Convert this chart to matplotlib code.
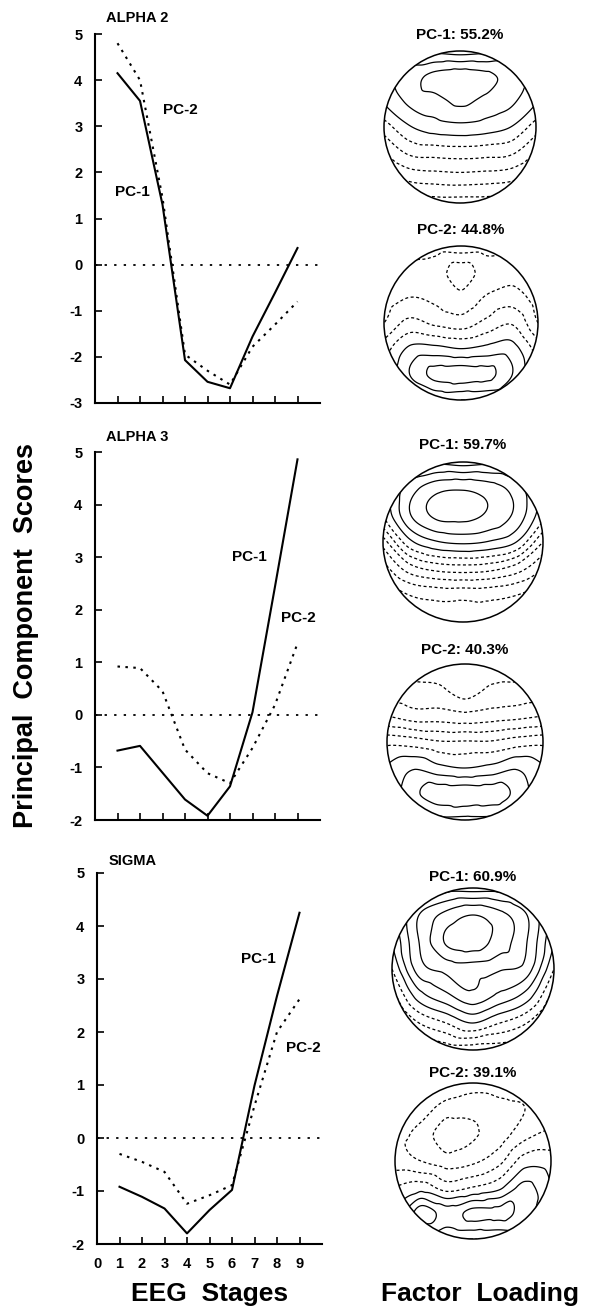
import numpy as np
import matplotlib
matplotlib.use('agg')
import matplotlib.pyplot as plt
import matplotlib.tri as mtri
from matplotlib.patches import Circle

plt.rcParams['font.family'] = ['Liberation Sans', 'DejaVu Sans']
plt.rcParams['font.weight'] = 'bold'
plt.rcParams['axes.unicode_minus'] = False

# ---- principal component scores per EEG stage ----
stages = [1, 2, 3, 4, 5, 6, 7, 8, 9]
alpha2_pc1 = [4.15, 3.55, 1.3, -2.07, -2.54, -2.68, -1.56, -0.61, 0.36]
alpha2_pc2 = [4.8, 4.0, 1.45, -1.95, -2.3, -2.6, -1.78, -1.3, -0.8]
alpha3_pc1 = [-0.68, -0.59, -1.1, -1.61, -1.92, -1.36, 0.05, 2.44, 4.86]
alpha3_pc2 = [0.92, 0.89, 0.45, -0.66, -1.11, -1.3, -0.63, 0.19, 1.36]
sigma_pc1 = [-0.92, -1.11, -1.33, -1.80, -1.36, -0.98, 0.99, 2.68, 4.25]
sigma_pc2 = [-0.3, -0.45, -0.64, -1.24, -1.08, -0.89, 0.61, 2.0, 2.62]
xtick_labels = ['0', '1', '2', '3', '4', '5', '6', '7', '8', '9']

# ---- factor loadings on a coarse 7x7 scalp grid (rows front->back, cols left->right) ----
alpha2_map1 = [[0.0, 0.05, 0.02, 0.0, 0.02, 0.05, 0.0],
               [0.12, 0.2, 0.28, 0.31, 0.28, 0.2, 0.12],
               [0.06, 0.17, 0.21, 0.27, 0.22, 0.17, 0.06],
               [-0.1, 0.04, 0.1, 0.12, 0.1, 0.05, -0.1],
               [-0.25, -0.13, -0.11, -0.1, -0.11, -0.13, -0.25],
               [-0.4, -0.32, -0.3, -0.29, -0.3, -0.32, -0.4],
               [-0.55, -0.52, -0.5, -0.5, -0.5, -0.52, -0.55]]
alpha2_map2 = [[-0.2, -0.2, -0.2, -0.18, -0.2, -0.22, -0.2],
               [-0.28, -0.28, -0.3, -0.4, -0.3, -0.28, -0.28],
               [-0.3, -0.25, -0.27, -0.32, -0.24, -0.2, -0.3],
               [-0.25, -0.12, -0.17, -0.2, -0.12, -0.06, -0.25],
               [-0.1, 0.07, 0.08, 0.05, 0.08, 0.09, -0.1],
               [-0.05, 0.15, 0.28, 0.3, 0.28, 0.15, -0.05],
               [-0.1, 0.0, 0.05, 0.05, 0.05, 0.0, -0.1]]
alpha3_map1 = [[-0.1, 0.0, 0.02, 0.0, 0.02, 0.0, -0.1],
               [0.02, 0.2, 0.32, 0.34, 0.3, 0.2, 0.02],
               [-0.05, 0.24, 0.37, 0.38, 0.33, 0.22, -0.02],
               [-0.3, 0.02, 0.14, 0.17, 0.14, 0.05, -0.25],
               [-0.5, -0.3, -0.22, -0.2, -0.22, -0.3, -0.45],
               [-0.65, -0.55, -0.52, -0.52, -0.52, -0.55, -0.62],
               [-0.65, -0.62, -0.6, -0.6, -0.6, -0.62, -0.65]]
alpha3_map2 = [[-0.6, -0.6, -0.6, -0.62, -0.6, -0.6, -0.6],
               [-0.5, -0.52, -0.53, -0.6, -0.53, -0.52, -0.5],
               [-0.35, -0.4, -0.4, -0.42, -0.4, -0.38, -0.35],
               [-0.08, -0.1, -0.14, -0.14, -0.14, -0.1, -0.08],
               [0.06, 0.14, 0.08, 0.05, 0.08, 0.14, 0.06],
               [0.06, 0.22, 0.3, 0.31, 0.3, 0.22, 0.06],
               [0.0, 0.08, 0.12, 0.12, 0.12, 0.08, 0.0]]
sigma_map1 = [[0.0, 0.15, 0.2, 0.2, 0.2, 0.15, 0.0],
              [0.1, 0.35, 0.48, 0.55, 0.48, 0.35, 0.1],
              [0.05, 0.35, 0.56, 0.6, 0.5, 0.35, 0.05],
              [-0.05, 0.3, 0.38, 0.4, 0.36, 0.3, -0.05],
              [-0.2, 0.1, 0.22, 0.32, 0.22, 0.1, -0.2],
              [-0.35, -0.15, -0.05, 0.05, -0.05, -0.15, -0.35],
              [-0.4, -0.35, -0.32, -0.32, -0.32, -0.35, -0.4]]
sigma_map2 = [[-0.05, -0.1, -0.15, -0.2, -0.2, -0.2, -0.2],
              [-0.15, -0.2, -0.3, -0.32, -0.28, -0.25, -0.2],
              [-0.22, -0.28, -0.42, -0.36, -0.3, -0.18, -0.12],
              [-0.2, -0.25, -0.3, -0.27, -0.18, 0.0, 0.0],
              [-0.05, 0.0, -0.1, -0.05, 0.02, 0.18, 0.05],
              [0.05, 0.3, 0.2, 0.28, 0.28, 0.2, 0.05],
              [0.0, 0.05, 0.05, 0.05, 0.05, 0.05, 0.0]]
map_titles = ['PC-1: 55.2%', 'PC-2: 44.8%', 'PC-1: 59.7%',
              'PC-2: 40.3%', 'PC-1: 60.9%', 'PC-2: 39.1%']
levels = [-0.75, -0.65, -0.55, -0.45, -0.35, -0.25, -0.15, -0.05,
          0.05, 0.15, 0.25, 0.35, 0.45, 0.55, 0.65, 0.75]

W, H = 598, 1312
fig = plt.figure(figsize=(W / 100, H / 100), dpi=100)


def px_axes(left, top, right, bottom):
    return fig.add_axes([left / W, 1 - bottom / H, (right - left) / W, (bottom - top) / H])


dots = (0, (1.2, 2.6))
panels = [
    ('ALPHA 2', alpha2_pc1, alpha2_pc2, (-3, 5), 95, 34, 403, (0.9, 1.58), (3.0, 3.36), 5.35),
    ('ALPHA 3', alpha3_pc1, alpha3_pc2, (-2, 5), 95, 452, 820, (6.1, 3.0), (8.27, 1.84), 5.28),
    ('SIGMA', sigma_pc1, sigma_pc2, (-2, 5), 97, 873, 1244, (6.4, 3.37), (8.4, 1.7), 5.22),
]
for i, (name, pc1, pc2, ylim, x0, top, bot, lab1, lab2, ty) in enumerate(panels):
    ax = px_axes(x0, top, x0 + 225, bot)
    ax.plot(stages, pc1, color='k', lw=1.5)
    ax.plot(stages, pc2, color='k', lw=1.5, linestyle=dots)
    ax.plot([0, 10], [0, 0], color='k', lw=1.3, linestyle=(0, (1.3, 4)))
    ax.set_xlim(0, 10)
    ax.set_ylim(*ylim)
    for s in ['top', 'right']:
        ax.spines[s].set_visible(False)
    for s in ['left', 'bottom']:
        ax.spines[s].set_linewidth(1.5)
    ax.set_yticks(range(ylim[0], ylim[1] + 1))
    ax.tick_params(direction='in', length=5, width=1.2, labelsize=10.5, pad=9)
    if i == 2:
        ax.set_xticks(range(10))
        ax.set_xticklabels(xtick_labels, fontsize=10.5, fontweight='bold')
    else:
        ax.set_xticks(stages)
        ax.set_xticklabels([])
    for lab in ax.get_yticklabels():
        lab.set_fontweight('bold')
    ax.text(0.5, ty, name, fontsize=10.5, fontweight='bold', va='center', ha='left')
    ax.text(lab1[0], lab1[1], 'PC-1', fontsize=11, fontweight='bold', va='center', ha='left')
    ax.text(lab2[0], lab2[1], 'PC-2', fontsize=11, fontweight='bold', va='center', ha='left')

# ---- topographic maps ----
maps = [alpha2_map1, alpha2_map2, alpha3_map1, alpha3_map2, sigma_map1, sigma_map2]
centers = [(460, 127, 76), (461, 323, 77), (463, 542, 80),
           (465, 742, 78), (473, 969, 81), (473, 1161, 78)]
title_y = [35, 230, 445, 650, 877, 1073]

g = np.linspace(-1, 1, 7)
GX, GY = np.meshgrid(g, g[::-1])
tri = mtri.Triangulation(GX.ravel(), GY.ravel())
fg = np.linspace(-1.05, 1.05, 211)
FX, FY = np.meshgrid(fg, fg)
styles = ['solid' if lv > 0 else (0, (2.4, 2.0)) for lv in levels]

for grid, (cx, cy, r), ttl, tyy in zip(maps, centers, map_titles, title_y):
    R = r * 1.05
    ax = px_axes(cx - R, cy - R, cx + R, cy + R)
    ax.set_xlim(-1.05, 1.05)
    ax.set_ylim(-1.05, 1.05)
    ax.axis('off')
    interp = mtri.CubicTriInterpolator(tri, np.array(grid).ravel(), kind='geom')
    Z = interp(FX, FY)
    cs = ax.contour(FX, FY, Z, levels=levels, colors='k', linewidths=0.9, linestyles=styles)
    clip = Circle((0, 0), 1.0, transform=ax.transData)
    cs.set_clip_path(clip)
    ax.add_patch(Circle((0, 0), 1.0, fill=False, ec='k', lw=1.1))
    fig.text(cx / W, 1 - tyy / H, ttl, fontsize=11, fontweight='bold', ha='center', va='center')

fig.text(26 / W, 1 - 635 / H, 'Principal  Component  Scores', rotation=90,
         fontsize=19.5, fontweight='bold', ha='center', va='center')
fig.text(210 / W, 1 - 1294 / H, 'EEG  Stages', fontsize=19, fontweight='bold', ha='center', va='center')
fig.text(480 / W, 1 - 1294 / H, 'Factor  Loading', fontsize=19, fontweight='bold', ha='center', va='center')

fig.savefig('out.png', dpi=100)
